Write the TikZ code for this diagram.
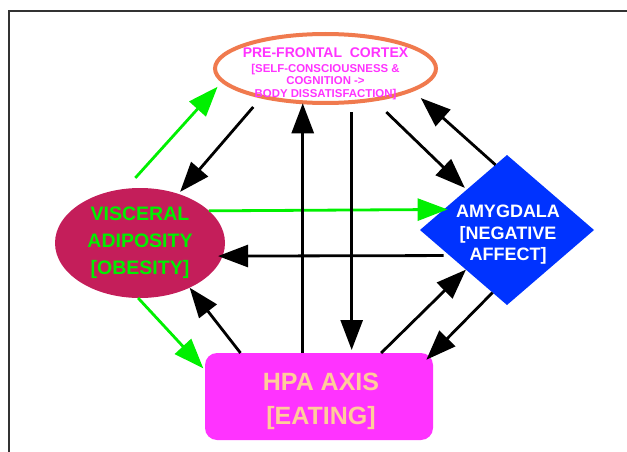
\documentclass[tikz,border=0pt]{standalone}
\usepackage{fontspec}
\setmainfont{Liberation Sans}
\usetikzlibrary{shapes.geometric,arrows.meta}

\definecolor{cortexorange}{RGB}{240,122,78}
\definecolor{cortextext}{RGB}{255,51,255}
\definecolor{adiposefill}{RGB}{196,30,90}
\definecolor{limegreen}{RGB}{0,240,0}
\definecolor{amygblue}{RGB}{0,51,255}
\definecolor{hpafill}{RGB}{255,51,255}
\definecolor{hpatext}{RGB}{255,204,153}
\definecolor{framegray}{RGB}{50,50,50}

\begin{document}
\begin{tikzpicture}[x=1pt,y=-1pt,
  shapebase/.style={inner sep=0pt, outer sep=0pt},
  cortexshape/.style={shapebase, ellipse, draw=cortexorange, line width=4pt,
    fill=white, minimum width=221pt, minimum height=69pt},
  adiposeshape/.style={shapebase, ellipse, fill=adiposefill,
    minimum width=170pt, minimum height=110pt},
  amygshape/.style={shapebase, diamond, fill=amygblue,
    minimum width=174pt, minimum height=150pt},
  hpashape/.style={shapebase, rectangle, rounded corners=12pt, fill=hpafill,
    minimum width=228pt, minimum height=87pt},
  labelbase/.style={align=center, inner sep=0pt, font=\bfseries},
  link/.style={line width=2.8pt, -{Triangle[length=30pt,width=22pt]}},
  blacklink/.style={link, draw=black},
  greenlink/.style={link, draw=limegreen}
]
\useasboundingbox (0,0) rectangle (627,452);

% page frame
\draw[framegray, line width=1.5pt] (9,452) -- (9,11) -- (627,11);

% the four regions
\node[cortexshape]  (pfc)  at (325.5,68.5) {};
\node[adiposeshape] (va)   at (140,243) {};
\node[amygshape]    (amyg) at (507,230) {};
\node[hpashape]     (hpa)  at (319,396.5) {};

% pathways out of visceral adiposity
\draw[greenlink, shorten <=14.7pt, shorten >=7.6pt] (va.105.4) -- (pfc.187.4);
\draw[greenlink, shorten >=-3.8pt] (va.25.9) -- (amyg.162.6);
\draw[greenlink, shorten >=2.5pt] (va.268) -- (hpa.167.5);

% pre-frontal cortex outputs
\draw[blacklink, shorten <=13.5pt, shorten >=2.7pt] (pfc.204.5) -- (va.52);
\draw[blacklink, shorten <=18pt, shorten >=2.6pt] (pfc.327.2) -- (amyg.135);
\draw[blacklink, shorten <=10pt, shorten >=3pt] (pfc.308.5) -- (pfc.308.5 |- hpa.north);

% amygdala outputs
\draw[blacklink, shorten >=12pt] (amyg.100.5) -- (pfc.346.9);
\draw[blacklink, shorten <=6pt, shorten >=-4.5pt] (amyg.204.6) -- (va.351.1);
\draw[blacklink, shorten >=-9.5pt] (amyg.257.3) -- (hpa.north east);

% HPA axis outputs
\draw[blacklink, shorten >=1pt] (pfc.236.4 |- hpa.north) -- (pfc.236.4);
\draw[blacklink] (hpa.151.2) -- (va.318.7);
\draw[blacklink] (hpa.35.5) -- (amyg.224.3);

% labels
\node[labelbase, text=cortextext, font=\bfseries\fontsize{11.4}{12.5}\selectfont]
  (pfc-label) at ([yshift=-5pt]pfc.center)
  {{\fontsize{14}{15}\selectfont PRE-FRONTAL\ \ CORTEX}\\[2.5pt]
   {[}SELF-CONSCIOUSNESS \&\\COGNITION ->\\BODY DISSATISFACTION]};
\node[labelbase, text=limegreen, font=\bfseries\fontsize{19.5}{27}\selectfont]
  (va-label) at (va.center)
  {VISCERAL\\ADIPOSITY\\{[}OBESITY]};
\node[labelbase, text=white, font=\bfseries\fontsize{18}{21.5}\selectfont]
  (amyg-label) at ([yshift=-5pt,xshift=1pt]amyg.center)
  {AMYGDALA\\{[}NEGATIVE\\AFFECT]};
\node[labelbase, text=hpatext, font=\bfseries\fontsize{25}{34}\selectfont]
  (hpa-label) at ([yshift=-5pt,xshift=2pt]hpa.center)
  {HPA AXIS\\{[}EATING]};
\end{tikzpicture}
\end{document}
